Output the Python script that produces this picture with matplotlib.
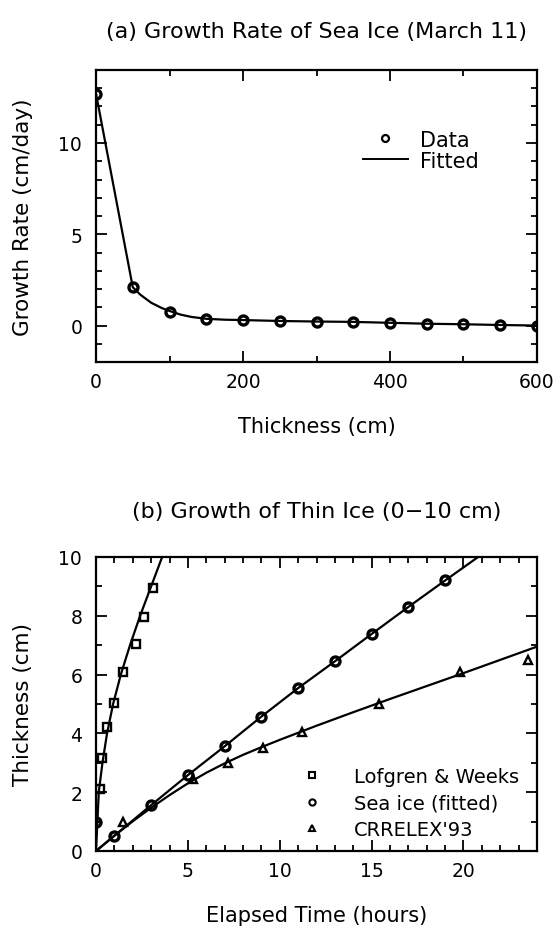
import matplotlib
matplotlib.use('Agg')
import matplotlib.pyplot as plt
from matplotlib.lines import Line2D
from matplotlib.ticker import MultipleLocator

# (a) growth rate vs thickness
thick = [0, 50, 100, 150, 200, 250, 300, 350, 400, 450, 500, 550, 600]
rate = [12.7, 2.1, 0.75, 0.35, 0.3, 0.25, 0.22, 0.2, 0.15, 0.1, 0.07, 0.03, 0.0]
fit_thick = [0, 50, 60, 75, 90, 100, 115, 130, 150, 175, 200, 250, 300, 350, 400, 450, 500, 550, 600]
fit_rate = [12.7, 2.1, 1.7, 1.25, 0.95, 0.8, 0.6, 0.47, 0.37, 0.32, 0.3, 0.25, 0.22, 0.2, 0.15, 0.1,
            0.07, 0.03, 0.0]

# (b) thin ice growth
lof_t = [0.2, 0.35, 0.6, 1.0, 1.45, 2.2, 2.6, 3.1]
lof_h = [2.1, 3.15, 4.2, 5.05, 6.1, 7.05, 7.95, 8.95]
lof_fit_t = [0, 0.15, 0.35, 0.6, 0.93, 1.35, 1.85, 2.4, 3.0, 3.6]
lof_fit_h = [0, 2.0, 3.0, 4.0, 5.0, 6.0, 7.0, 8.0, 9.0, 10.0]

sea_t = [0, 1, 3, 5, 7, 9, 11, 13, 15, 17, 19]
sea_h = [1.0, 0.52, 1.56, 2.58, 3.56, 4.57, 5.54, 6.45, 7.38, 8.3, 9.2]
sea_fit_t = [0, 1, 3, 5, 7, 9, 11, 13, 15, 17, 19, 20.8]
sea_fit_h = [0, 0.52, 1.56, 2.58, 3.56, 4.57, 5.54, 6.45, 7.38, 8.3, 9.2, 10.0]

crr_t = [1.45, 5.28, 7.18, 9.1, 11.2, 15.4, 19.8, 23.5]
crr_h = [1.0, 2.45, 3.0, 3.5, 4.04, 5.0, 6.08, 6.5]
crr_fit_t = [0, 1, 2, 3, 4, 5, 6, 7, 8, 9, 10, 12, 14, 16, 18, 20, 22, 24]
crr_fit_h = [0, 0.52, 1.01, 1.47, 1.9, 2.3, 2.66, 2.98, 3.27, 3.53, 3.78, 4.26, 4.72, 5.17,
             5.61, 6.05, 6.5, 6.95]

plt.rcParams['font.family'] = 'DejaVu Sans'
fs = 15
tfs = 13.5

fig = plt.figure(figsize=(5.56, 9.29), dpi=100)
ax1 = fig.add_axes([0.1727, 0.6092, 0.7931, 0.3144])
ax2 = fig.add_axes([0.1727, 0.0829, 0.7931, 0.3165])


def style(ax):
    for s in ax.spines.values():
        s.set_linewidth(1.6)
    ax.tick_params(which='both', direction='in', top=True, right=True,
                   width=1.3, labelsize=tfs)
    ax.tick_params(axis='x', pad=7)
    ax.tick_params(axis='y', pad=10)
    ax.tick_params(which='major', length=8)
    ax.tick_params(which='minor', length=4)


# First chart
ax1.plot(fit_thick, fit_rate, color='black', lw=1.6)
ax1.plot(thick, rate, 'o', ms=6.5, mfc='none', mec='black', mew=2.4)
ax1.set_xlim(0, 600)
ax1.set_ylim(-2, 14)
ax1.xaxis.set_major_locator(MultipleLocator(200))
ax1.xaxis.set_minor_locator(MultipleLocator(100))
ax1.yaxis.set_major_locator(MultipleLocator(5))
ax1.yaxis.set_minor_locator(MultipleLocator(1))
style(ax1)
ax1.set_xlabel('Thickness (cm)', fontsize=fs, labelpad=18)
ax1.set_ylabel('Growth Rate (cm/day)', fontsize=fs + 0.5)
ax1.yaxis.set_label_coords(-0.143, 0.5)
ax1.set_title('(a) Growth Rate of Sea Ice (March 11)', fontsize=16, pad=24)
h1 = [Line2D([], [], ls='none', marker='o', ms=5, mfc='none', mec='black', mew=1.6),
      Line2D([], [], color='black', lw=1.4)]
ax1.legend(h1, ['Data', 'Fitted'], loc='upper right', bbox_to_anchor=(0.911, 0.86),
           frameon=False, fontsize=fs, handlelength=2.15, labelspacing=0.05,
           handletextpad=0.6)

# Second chart
ax2.plot(lof_fit_t, lof_fit_h, color='black', lw=1.6)
ax2.plot(sea_fit_t, sea_fit_h, color='black', lw=1.6)
ax2.plot(crr_fit_t, crr_fit_h, color='black', lw=1.6)
ax2.plot(lof_t, lof_h, 's', ms=6, mfc='none', mec='black', mew=1.7)
ax2.plot(sea_t, sea_h, 'o', ms=6.5, mfc='none', mec='black', mew=2.4)
ax2.plot(crr_t, crr_h, '^', ms=5.5, mfc='none', mec='black', mew=1.7)
ax2.set_xlim(0, 24)
ax2.set_ylim(0, 10)
ax2.xaxis.set_major_locator(MultipleLocator(5))
ax2.xaxis.set_minor_locator(MultipleLocator(1))
ax2.yaxis.set_major_locator(MultipleLocator(2))
ax2.yaxis.set_minor_locator(MultipleLocator(1))
style(ax2)
ax2.set_xlabel('Elapsed Time (hours)', fontsize=fs, labelpad=18)
ax2.set_ylabel('Thickness (cm)', fontsize=fs + 0.5)
ax2.yaxis.set_label_coords(-0.143, 0.5)
ax2.set_title('(b) Growth of Thin Ice (0\u221210 cm)', fontsize=16, pad=29)
h2 = [Line2D([], [], ls='none', marker='s', ms=4.5, mfc='none', mec='black', mew=1.5),
      Line2D([], [], ls='none', marker='o', ms=4.5, mfc='none', mec='black', mew=1.5),
      Line2D([], [], ls='none', marker='^', ms=4.5, mfc='none', mec='black', mew=1.5)]
ax2.legend(h2, ['Lofgren & Weeks', 'Sea ice (fitted)', "CRRELEX'93"], loc='lower right',
           bbox_to_anchor=(1.0, -0.018), frameon=False, fontsize=14,
           handlelength=2.2, labelspacing=0.38, handletextpad=1.1)

fig.savefig('out.png', dpi=100)
